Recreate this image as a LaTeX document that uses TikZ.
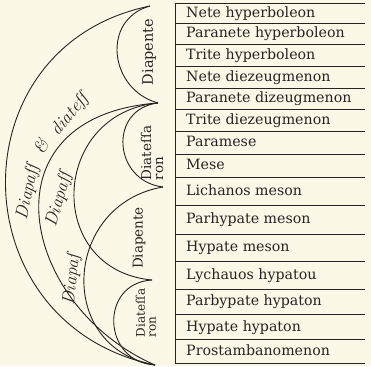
\documentclass[tikz,border=0pt]{standalone}
\usepackage{fontspec}
\newfontfamily\tablefont{DejaVu Serif}
\definecolor{paper}{RGB}{252,248,232}
\definecolor{ink}{RGB}{38,36,34}

\begin{document}
\begin{tikzpicture}[x=1pt,y=1pt,
    rule/.style={draw=ink, line width=0.9pt},
    string/.style={anchor=base west, inner sep=0pt, text=ink,
                   font=\tablefont\fontsize{14.2}{16}\selectfont},
    lune/.style={draw=ink, line width=0.9pt},
    tag/.style={rotate=90, inner sep=0pt, text=ink, align=left},
    arclabel/.style={inner sep=0pt, text=ink, font=\itshape\fontsize{18}{18}\selectfont}
]
    \fill[paper] (0,0) rectangle (371,366);
    \useasboundingbox (0,0) rectangle (371,366);

    % Table of the fifteen strings
    \draw[rule] (175,363) -- (175,3);
    \draw[rule] (175,363) -- (365,363);
    \foreach \ytop/\ybot/\tname [count=\i] in {
        363/343/Nete hyperboleon, 343/322/Paranete hyperboleon,
        322/300/Trite hyperboleon, 300/278/Nete diezeugmenon,
        278/257/Paranete dizeugmenon, 257/235/Trite diezeugmenon,
        235/212/Paramese, 212/189/Mese, 189/161/Lichanos meson,
        161/132/Parhypate meson, 132/105/Hypate meson,
        105/77/Lychauos hypatou, 77/52/Parbypate hypaton,
        52/27/Hypate hypaton, 27/3/Prostambanomenon}
    {
        \node[string] (row\i) at (186,{(\ytop+\ybot)/2-4.5}) {\tname};
        \draw[rule] (175,\ybot) -- (365,\ybot);
    }

    % Cusps on the left of the table
    \coordinate (p0) at (150,360);
    \coordinate (p1) at (158,263);
    \coordinate (p2) at (163,179);
    \coordinate (p3) at (152,86);
    \coordinate (p4) at (155,1);

    % Small lunes
    \draw[lune] (p0) .. controls +(-49,-13.5) and +(-49,13.5) .. (p1);
    \draw[lune] (p1) .. controls +(-50,-6) and +(-50,6) .. (p2);
    \draw[lune] (p3) .. controls +(-53,-3) and +(-53,3) .. (p4);
    % Crossing octaves
    \draw[lune] (p1) .. controls +(-108,-10) and +(-108,10) .. (p3);
    \draw[lune] (p2) .. controls +(-100,-17) and +(-100,17) .. (p4);
    % Large arcs
    \draw[lune] (p0) .. controls +(-196,-40) and +(-196,40) .. (p4);
    \draw[lune] (p1) .. controls +(-178,-13) and +(-135,59) .. (p4);

    % Interval names
    \node[tag, font=\tablefont\fontsize{14.5}{14}\selectfont] (diapenteA) at (149,314) {Diapente};
    \node[tag, font=\tablefont\fontsize{13.5}{12}\selectfont] (diatessA) at (152,213) {Diateſſa\\ron};
    \node[tag, font=\tablefont\fontsize{13.5}{13}\selectfont] (diapenteB) at (139,128) {Diapente};
    \node[tag, font=\tablefont\fontsize{12}{11}\selectfont] (diatessB) at (146,53) {Diateſſa\\ron};

    \node[arclabel, rotate=78] (outerA) at (28,174) {Diapaſſ};
    \node[arclabel, rotate=62] (outerB) at (41,219) {\&};
    \node[arclabel, rotate=50] (outerC) at (70,251) {diateſſ};
    \node[arclabel, rotate=74] (octaveA) at (59,166) {Diapaſſ};
    \node[arclabel, rotate=84] (octaveB) at (72,86) {Diapaſ};
\end{tikzpicture}
\end{document}
